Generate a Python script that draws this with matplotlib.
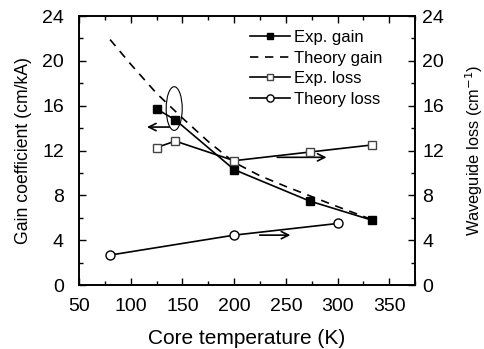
import matplotlib
matplotlib.use("Agg")
import matplotlib.pyplot as plt
from matplotlib.patches import Ellipse
from matplotlib.ticker import MultipleLocator

plt.rcParams['font.family'] = ['Liberation Sans', 'DejaVu Sans']

exp_gain_T = [125, 143, 200, 273, 333]
exp_gain = [15.7, 14.75, 10.3, 7.5, 5.8]

theory_gain_T = [80, 100, 125, 150, 175, 200, 225, 250, 275, 300, 333]
theory_gain = [21.9, 19.7, 17.1, 14.9, 12.8, 10.95, 9.75, 8.8, 7.9, 7.0, 5.85]

exp_loss_T = [125, 143, 200, 273, 333]
exp_loss = [12.27, 12.85, 11.1, 11.87, 12.5]

theory_loss_T = [80, 200, 300]
theory_loss = [2.68, 4.46, 5.5]

fig = plt.figure(figsize=(4.85, 3.49), dpi=100)
ax = fig.add_axes([0.163, 0.183, 0.693, 0.771])
ax2 = ax.twinx()

lw = 1.2
l1, = ax.plot(exp_gain_T, exp_gain, '-', color='black', lw=lw, marker='s', ms=6,
              mfc='black', mec='black', label='Exp. gain')
l2, = ax.plot(theory_gain_T, theory_gain, '--', color='black', lw=lw,
              dashes=(5, 4), label='Theory gain')
l3, = ax2.plot(exp_loss_T, exp_loss, '-', color='black', lw=lw, marker='s', ms=6,
               mfc='white', mec='#444444', label='Exp. loss')
l4, = ax2.plot(theory_loss_T, theory_loss, '-', color='black', lw=lw, marker='o', ms=6.5,
               mfc='white', mec='black', label='Theory loss')

for a in (ax, ax2):
    a.set_xlim(50, 375)
    a.set_ylim(0, 24)
    a.yaxis.set_major_locator(MultipleLocator(4))
    a.yaxis.set_minor_locator(MultipleLocator(2))
    a.xaxis.set_major_locator(MultipleLocator(50))
    a.xaxis.set_minor_locator(MultipleLocator(25))
    a.tick_params(which='both', direction='in', labelsize=14)
    a.tick_params(which='major', length=5, width=1)
    a.tick_params(which='minor', length=3, width=1)
    for s in a.spines.values():
        s.set_linewidth(1.2)
ax.tick_params(axis='x', which='both', top=True)
ax.tick_params(axis='x', pad=9)
ax.tick_params(axis='y', pad=11)
ax2.tick_params(axis='y', pad=5)

ax.set_xlabel('Core temperature (K)', fontsize=15, labelpad=10)
ax.set_ylabel('Gain coefficient (cm/kA)', fontsize=12.7, labelpad=7)
ax2.set_ylabel('Waveguide loss (cm$^{-1}$)', fontsize=11.8, labelpad=14)

# annotations: ellipse and arrows
ax.add_patch(Ellipse((142, 15.75), 15.5, 3.9, fill=False, edgecolor='black', lw=0.8))
arrowprops = dict(arrowstyle='->', color='black', lw=1.2, mutation_scale=13)
ax.annotate('', xy=(113, 14.1), xytext=(140, 14.1), arrowprops=arrowprops)
ax.annotate('', xy=(292, 11.4), xytext=(239, 11.4), arrowprops=arrowprops)
ax.annotate('', xy=(257, 4.46), xytext=(222, 4.46), arrowprops=arrowprops)

leg = ax2.legend(handles=[l1, l2, l3, l4], loc='upper right', frameon=False,
                 fontsize=12, handlelength=2.4, handletextpad=0.25,
                 labelspacing=0.33, borderaxespad=0.45, markerscale=0.8,
                 bbox_to_anchor=(0.945, 1.0))

fig.savefig('out.png', dpi=100)
